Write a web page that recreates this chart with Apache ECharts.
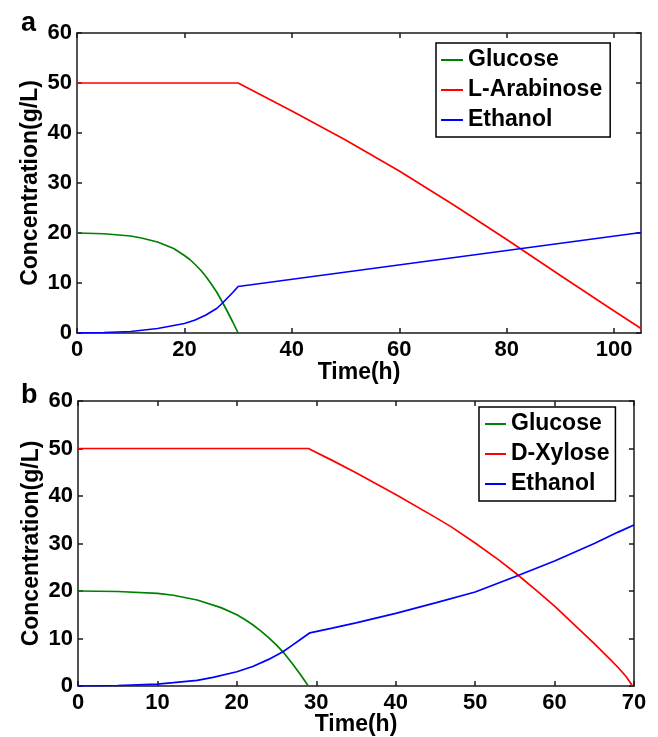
<!DOCTYPE html>
<html>
<head>
<meta charset="utf-8">
<script src="https://cdn.jsdelivr.net/npm/echarts@6/dist/echarts.min.js"></script>
<style>html,body{margin:0;padding:0;background:#fff}#c{width:658px;height:737px}</style>
</head>
<body>
<div id="c"></div>
<script>
// Panel a
const aGlucoseT = [0,5,10,12,15,18,20,21,22,23,24,25,26,27,28,29,30];
const aGlucose  = [20,19.85,19.4,19.0,18.2,16.9,15.5,14.7,13.7,12.6,11.3,9.8,8.2,6.3,4.3,2.2,0];
const aArabT    = [0,30,40,50,60,70,80,90,100,105];
const aArab     = [50,50,44.4,38.6,32.4,25.7,18.7,11.5,4.4,0.9];
const aEthanolT = [0,5,10,15,20,22,24,26,27,28,29,30,105];
const aEthanol  = [0,0.1,0.3,0.9,1.9,2.6,3.6,4.9,5.9,7.0,8.1,9.3,20.1];
const aXTicks   = [0,20,40,60,80,100];
// Panel b
const bGlucoseT = [0,5,10,12,15,18,20,21,22,23,24,25,26,27,28,29];
const bGlucose  = [20,19.9,19.5,19.1,18.1,16.5,15.0,14.0,12.9,11.6,10.2,8.6,6.8,4.7,2.4,0];
const bXyloseT  = [0,29,32,35,40,45,47,50,53,55,58,60,63,65,67,68,69,69.5,69.8];
const bXylose   = [50,50,47.5,44.9,40.3,35.5,33.5,30.1,26.5,23.9,19.7,16.8,12.1,8.9,5.6,3.9,2.0,0.8,0];
const bEthanolT = [0,5,10,12,15,17,20,22,24,25.8,27,28,29.2,32,35,40,45,50,55,60,65,68,70];
const bEthanol  = [0,0.1,0.4,0.7,1.2,1.8,3.0,4.1,5.6,7.2,8.6,9.8,11.2,12.2,13.3,15.3,17.5,19.8,23.0,26.3,30.0,32.4,33.9];
const bXTicks   = [0,10,20,30,40,50,60,70];
const yTicks    = [0,10,20,30,40,50,60];

const zip = (t, v) => t.map((x, i) => [x, v[i]]);
const FONT = "'Liberation Sans', Arial, sans-serif";
const AXC = '#1a1a1a';
const GREEN = '#008000', RED = '#ff0000', BLUE = '#0000ff';

function xAxes(gi, max, ticks) {
  const base = {
    type: 'value', gridIndex: gi, min: 0, max: max,
    splitLine: {show: false},
    axisLine: {show: true, onZero: false, lineStyle: {color: AXC, width: 1.5}},
    axisTick: {show: true, inside: true, length: 5, customValues: ticks, lineStyle: {color: AXC, width: 1.5}},
  };
  return [
    Object.assign({}, base, {
      position: 'bottom',
      name: 'Time(h)', nameLocation: 'middle', nameGap: gi === 0 ? 28 : 27, nameMoveOverlap: false,
      nameTextStyle: {fontFamily: FONT, fontWeight: 'bold', fontSize: 23, color: '#000'},
      axisLabel: {customValues: ticks, margin: 6, fontFamily: FONT, fontWeight: 'bold', fontSize: 22, color: '#000'}
    }),
    Object.assign({}, base, {position: 'top', axisLabel: {show: false}})
  ];
}
function yAxes(gi) {
  const base = {
    type: 'value', gridIndex: gi, min: 0, max: 60, interval: 10,
    splitLine: {show: false},
    axisLine: {show: true, onZero: false, lineStyle: {color: AXC, width: 1.5}},
    axisTick: {show: true, inside: true, length: 5, lineStyle: {color: AXC, width: 1.5}},
  };
  return [
    Object.assign({}, base, {
      position: 'left',
      name: 'Concentration(g/L)', nameLocation: 'middle', nameGap: 35, nameRotate: 90, nameMoveOverlap: false,
      nameTextStyle: {fontFamily: FONT, fontWeight: 'bold', fontSize: 23, color: '#000'},
      axisLabel: {customValues: yTicks, margin: 5, fontFamily: FONT, fontWeight: 'bold', fontSize: 22, color: '#000'}
    }),
    Object.assign({}, base, {position: 'right', axisLabel: {show: false}})
  ];
}
function line(name, data, color, xi, yi) {
  return {
    name: name, type: 'line', data: data, xAxisIndex: xi, yAxisIndex: yi,
    symbol: 'none', smooth: false, animation: false,
    lineStyle: {color: color, width: 1.7}, itemStyle: {color: color}
  };
}
const legendText = {fontFamily: FONT, fontWeight: 'bold', fontSize: 23, color: '#000', lineHeight: 24};

const option = {
  backgroundColor: '#fff',
  animation: false,
  title: [
    {text: 'a', left: 16, top: 5, textStyle: {fontFamily: FONT, fontWeight: 'bold', fontSize: 27, color: '#000'}},
    {text: 'b', left: 16, top: 377, textStyle: {fontFamily: FONT, fontWeight: 'bold', fontSize: 27, color: '#000'}}
  ],
  grid: [
    {left: 77, top: 33, width: 564, height: 300},
    {left: 78, top: 401, width: 556, height: 285}
  ],
  xAxis: [].concat(xAxes(0, 105, aXTicks), xAxes(1, 70, bXTicks)),
  yAxis: [].concat(yAxes(0), yAxes(1)),
  legend: [
    {
      data: ['Glucose', 'L-Arabinose', 'Ethanol'], orient: 'vertical', left: 436, top: 43,
      padding: [5, 8, 5, 5], itemGap: 6, itemWidth: 22, itemHeight: 2, icon: 'rect',
      borderColor: '#000', borderWidth: 1.5, backgroundColor: '#fff', selectedMode: false,
      textStyle: legendText
    },
    {
      data: ['Glucose', 'D-Xylose', 'Ethanol'], orient: 'vertical', left: 479, top: 407,
      padding: [5, 6, 5, 6], itemGap: 6, itemWidth: 21, itemHeight: 2, icon: 'rect',
      borderColor: '#000', borderWidth: 1.5, backgroundColor: '#fff', selectedMode: false,
      textStyle: legendText
    }
  ],
  series: [
    line('Glucose', zip(aGlucoseT, aGlucose), GREEN, 0, 0),
    line('L-Arabinose', zip(aArabT, aArab), RED, 0, 0),
    line('Ethanol', zip(aEthanolT, aEthanol), BLUE, 0, 0),
    line('Glucose', zip(bGlucoseT, bGlucose), GREEN, 2, 2),
    line('D-Xylose', zip(bXyloseT, bXylose), RED, 2, 2),
    line('Ethanol', zip(bEthanolT, bEthanol), BLUE, 2, 2)
  ]
};
const chart = echarts.init(document.getElementById('c'), null, {renderer: 'canvas'});
chart.setOption(option);
</script>
</body>
</html>
